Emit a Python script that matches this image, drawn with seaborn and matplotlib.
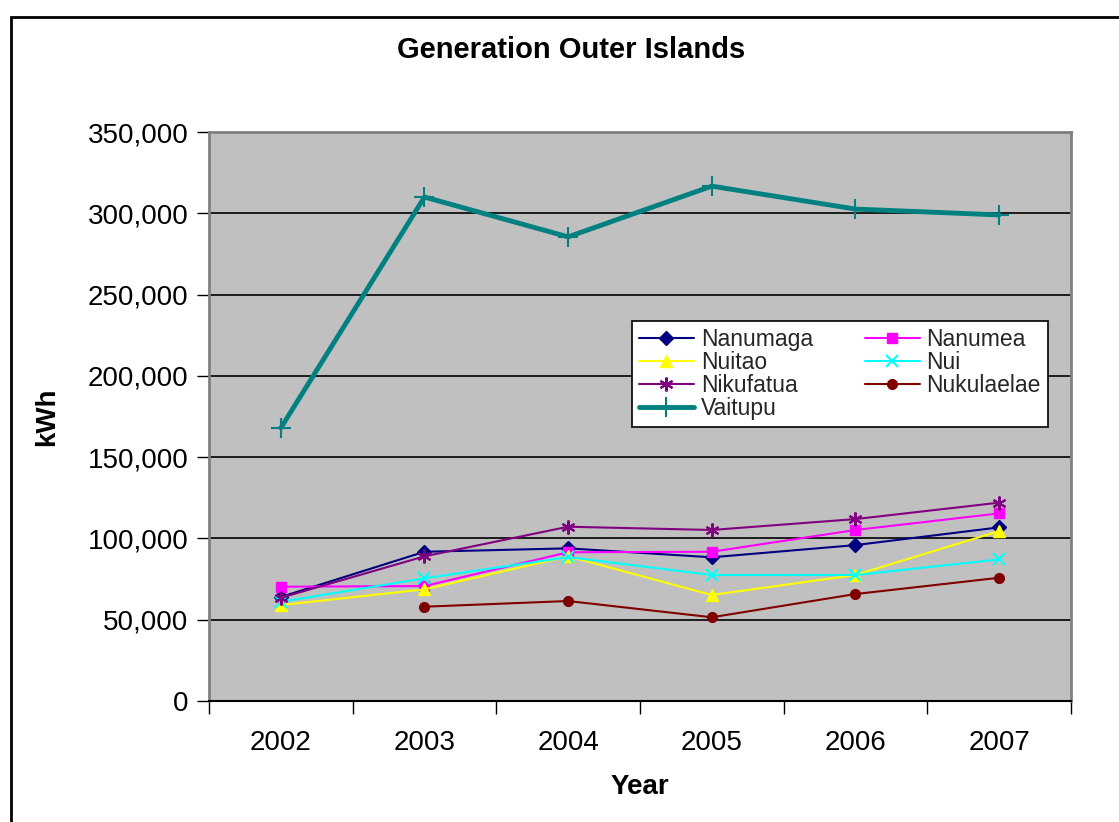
import numpy as np
import pandas as pd
import matplotlib
matplotlib.use("Agg")
import matplotlib.pyplot as plt
from matplotlib.ticker import FuncFormatter, FixedLocator, NullFormatter
from matplotlib.patches import Rectangle
import seaborn as sns

# Annual generation (kWh) on the outer islands
years = [2002, 2003, 2004, 2005, 2006, 2007]
nanumaga = [64000, 91800, 93900, 88400, 95900, 106800]
nanumea = [70300, 70700, 91500, 91800, 105200, 115400]
nuitao = [59000, 68700, 89000, 65200, 77500, 104500]
nui = [61000, 75500, 88500, 77500, 77500, 87100]
nikufatua = [63500, 89000, 107200, 105200, 111900, 122000]
nukulaelae = [np.nan, 58000, 61500, 51500, 65800, 75800]
vaitupu = [168000, 310000, 285500, 316700, 302600, 299000]

series = [
    ("Nanumaga", nanumaga, "#000080", "D", 7, 1.5),
    ("Nanumea", nanumea, "#FF00FF", "s", 7, 1.5),
    ("Nuitao", nuitao, "#FFFF00", "^", 8, 1.5),
    ("Nui", nui, "#00FFFF", "x", 8, 1.5),
    ("Nikufatua", nikufatua, "#800080", (6, 2, 0), 10, 1.5),
    ("Nukulaelae", nukulaelae, "#800000", "o", 7, 1.5),
    ("Vaitupu", vaitupu, "#008080", "+", 14, 3.5),
]

sns.set_theme(style="white")
plt.rcParams["font.family"] = ["Liberation Sans", "DejaVu Sans"]

fig = plt.figure(figsize=(11.19, 8.22), dpi=100)
ax = fig.add_axes([0.1868, 0.1472, 0.7702, 0.6922])
ax.set_facecolor("#C0C0C0")

handles = {}
for name, vals, color, marker, ms, lw in series:
    df = pd.DataFrame({"Year": years, "kWh": vals}).dropna()
    sns.lineplot(data=df, x="Year", y="kWh", ax=ax, color=color, marker=marker,
                 markersize=ms, markeredgecolor=color,
                 markeredgewidth=1.5 if marker in ("x", "+", (6, 2, 0)) else 1,
                 linewidth=lw, label=name, legend=False, zorder=3)
    handles[name] = ax.lines[-1]

ax.set_xlim(2001.5, 2007.5)
ax.set_ylim(0, 350000)
ax.yaxis.set_major_locator(FixedLocator(np.arange(0, 350001, 50000)))
ax.yaxis.set_major_formatter(FuncFormatter(lambda v, p: f"{int(v):,}"))

# Year labels centred in each category; tick marks on the category boundaries
ax.xaxis.set_major_locator(FixedLocator(years))
ax.xaxis.set_minor_locator(FixedLocator(np.arange(2001.5, 2008, 1.0)))
ax.xaxis.set_minor_formatter(NullFormatter())
ax.tick_params(axis="x", which="major", length=0, pad=21, labelsize=20, colors="black")
ax.tick_params(axis="x", which="minor", length=9, width=1, color="black", direction="out", bottom=True)
ax.tick_params(axis="y", which="major", length=9, width=1, color="black", direction="out", left=True,
               labelsize=20, pad=6, labelcolor="black")

ax.grid(False)
for yv in range(50000, 350000, 50000):
    ax.axhline(yv, color="black", linewidth=1.2, zorder=1)

for side in ("left", "top", "right"):
    ax.spines[side].set_visible(True)
    ax.spines[side].set_color("#808080")
    ax.spines[side].set_linewidth(2)
ax.spines["bottom"].set_color("black")
ax.spines["bottom"].set_linewidth(1.5)

ax.set_xlabel("Year", fontsize=20, fontweight="bold", labelpad=13, color="black")
ax.set_ylabel("kWh", fontsize=20, fontweight="bold", labelpad=20, color="black")

# Chart title, centred over the whole chart area
fig.text(0.510, 1 - 50 / 822, "Generation Outer Islands", fontsize=21, fontweight="bold",
         color="black", ha="center", va="center")

order = ["Nanumaga", "Nuitao", "Nikufatua", "Vaitupu", "Nanumea", "Nui", "Nukulaelae"]
leg = ax.legend([handles[n] for n in order], order, ncol=2, loc="upper left",
                bbox_to_anchor=(0.4907, 0.483, 0.4826, 0.185), mode="expand",
                fontsize=16.5, frameon=True, fancybox=False, framealpha=1,
                edgecolor="black", facecolor="white", borderpad=0.3,
                labelspacing=0.0, handlelength=2.4, handletextpad=0.3,
                columnspacing=1.6, borderaxespad=0)
leg.get_frame().set_linewidth(1.2)
leg.set_zorder(5)

# Chart border
fig.patches.append(Rectangle((11 / 1119, -0.05), 1.2, 1 - 17 / 822 + 0.05,
                             transform=fig.transFigure, fill=False,
                             edgecolor="black", linewidth=2))

fig.savefig("out.png", dpi=100)
